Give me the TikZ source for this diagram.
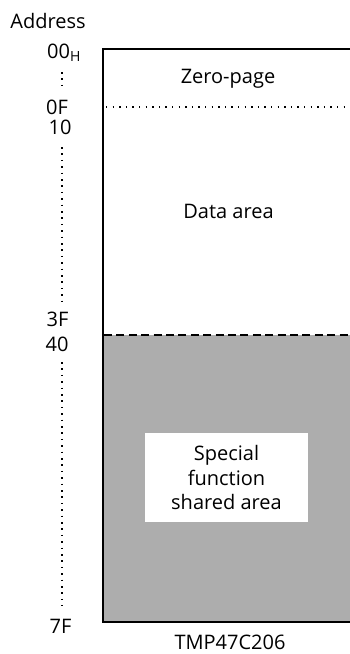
\documentclass[tikz,border=0pt]{standalone}
\usepackage{fontspec}
\setmainfont{Open Sans}

\begin{document}
\begin{tikzpicture}[x=1pt, y=-1pt,
		lbl/.style={font=\fontsize{20}{24.5}\selectfont, inner sep=0pt},
		dotrow/.style={line width=1.4pt, dash pattern=on 1.4pt off 5.2pt},
		dotcol/.style={line width=1.5pt, dash pattern=on 1.5pt off 4.9pt},
		dashrow/.style={line width=1.8pt, dash pattern=on 8pt off 4.4pt}]
		%%%%% START %%%%%
		\useasboundingbox (0, 0) rectangle (350, 654);
		
		\fill[color=black!32] (103, 335) rectangle (350, 622);
		\draw[line width=2pt] (350, 48.5) -- (103, 48.5) -- (103, 622) -- (350, 622);
		
		\draw[dotrow] (106, 107) -- (350, 107);
		\draw[dashrow] (104, 335) -- (350, 335);
		
		\node[lbl, fill=white, minimum width=163pt, minimum height=89pt, align=center] (sfr) at (226.5, 477.5) {Special\\function\\shared area};
		\node[lbl] (zero) at (228, 79) {Zero-page};
		\node[lbl] (data) at (228.5, 211) {Data area};
		
		\node[lbl] (address) at (48, 21) {Address};
		\node[lbl] (a00) at (64, 53) {00\textsubscript{H}};
		\node[lbl] (a0f) at (57, 107) {0F};
		\node[lbl] (a10) at (60, 127.5) {10};
		\node[lbl] (a3f) at (57.5, 319.5) {3F};
		\node[lbl] (a40) at (57, 344.5) {40};
		\node[lbl] (a7f) at (60.5, 626) {7F};
		
		\draw[dotcol] (62, 72) -- (62, 87);
		\draw[dotcol] (62, 147) -- (62, 302);
		\draw[dotcol] (62, 362) -- (62, 606);
		
		\node[lbl] (chip) at (230, 642) {TMP47C206};
		%%%%% END %%%%%
	\end{tikzpicture}
\end{document}
